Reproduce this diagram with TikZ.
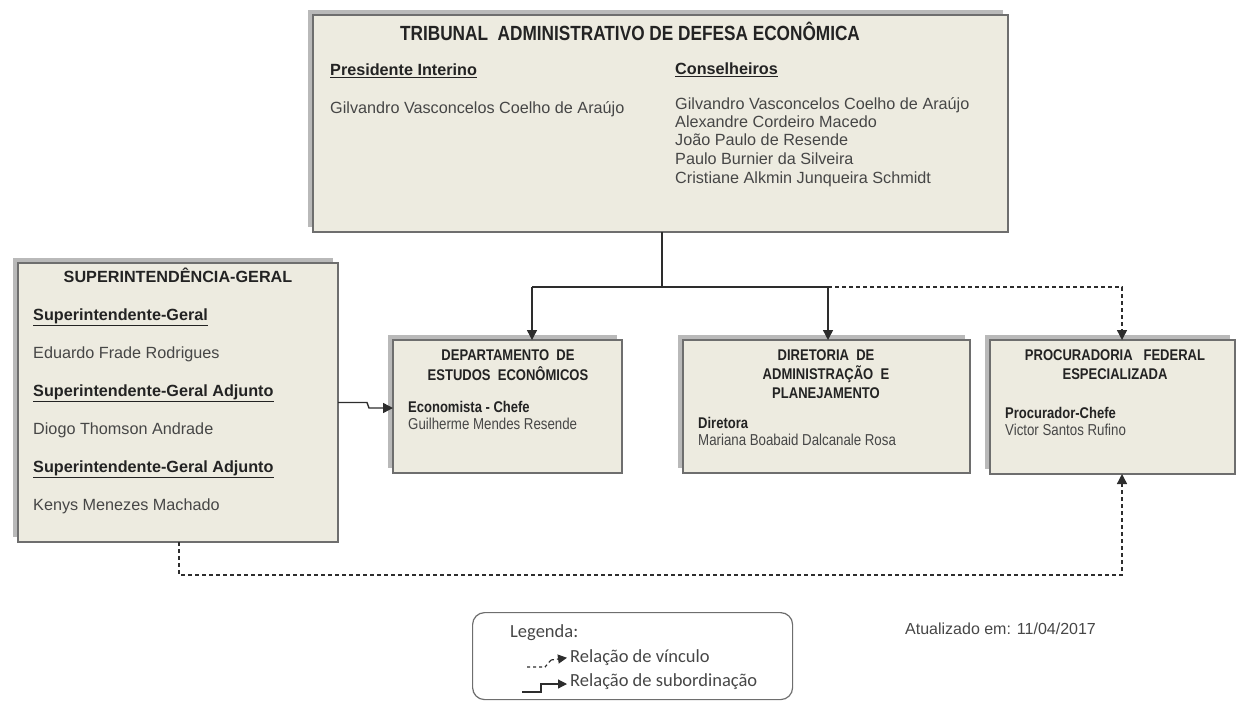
\documentclass[tikz,border=0pt]{standalone}
\usepackage{fontspec}
\setmainfont{Liberation Sans}
\newfontfamily\legfont{Carlito}
\newfontfamily\nar[FakeStretch=0.84]{Liberation Sans}
\usetikzlibrary{arrows.meta}
\definecolor{boxfill}{RGB}{237,235,224}
\definecolor{boxline}{RGB}{110,110,110}
\definecolor{shadowc}{RGB}{185,185,185}
\definecolor{ink}{RGB}{35,35,35}
\definecolor{namec}{RGB}{70,70,70}
\definecolor{linec}{RGB}{45,45,45}
\newcommand\szTitle{\nar\fontsize{20.5}{23}\selectfont\bfseries}
\newcommand\szBig{\fontsize{16.2}{19}\selectfont}
\newcommand\szBox{\nar\fontsize{15.8}{18}\selectfont}
\newcommand\szBoxT{\nar\fontsize{15.5}{18}\selectfont\bfseries}
\tikzset{
  orgbox/.style={draw=boxline, line width=1.8pt, fill=boxfill, anchor=north west,
    inner sep=0pt, outer sep=0pt,
    preaction={fill=shadowc, transform canvas={shift={(-5pt,5pt)}}}},
  tl/.style={anchor=mid west, inner sep=0pt, text=namec},
  th/.style={anchor=mid west, inner sep=0pt, text=ink},
  tc/.style={anchor=mid, inner sep=0pt, text=ink},
  conn/.style={draw=linec, line width=1.4pt},
  tip/.style={-{Triangle[length=10pt,width=10pt]}},
  sub/.style={conn, tip},
  vin/.style={draw=linec, line width=1.4pt, dash pattern=on 4pt off 3pt},
  vinarr/.style={vin, tip},
}
\begin{document}
\begin{tikzpicture}[x=1pt,y=-1pt]
\useasboundingbox (0,0) rectangle (1244,702);
% boxes
\node[orgbox, minimum width=695pt, minimum height=217pt] (trib) at (313,15) {};
\node[orgbox, minimum width=320pt, minimum height=279pt] (sg) at (18,263) {};
\node[orgbox, minimum width=229pt, minimum height=133pt] (dee) at (393,340) {};
\node[orgbox, minimum width=287pt, minimum height=133pt] (dap) at (683,340) {};
\node[orgbox, minimum width=245pt, minimum height=134pt] (pfe) at (990,340) {};
% tribunal text
\node[tc, font=\szTitle] (tt) at (630,38) {TRIBUNAL\ \ ADMINISTRATIVO DE DEFESA ECONÔMICA};
\node[th, font=\szBig\bfseries] (tp) at (330,73) {\underline{Presidente Interino}};
\node[th, font=\szBig\bfseries] (tcn) at (675,72) {\underline{Conselheiros}};
\node[tl, font=\szBig] (tp1) at (330,111) {Gilvandro Vasconcelos Coelho de Araújo};
\node[tl, font=\szBig] (tc1) at (675,107) {Gilvandro Vasconcelos Coelho de Araújo};
\node[tl, font=\szBig] (tc2) at (675,125) {Alexandre Cordeiro Macedo};
\node[tl, font=\szBig] (tc3) at (675,143) {João Paulo de Resende};
\node[tl, font=\szBig] (tc4) at (675,162) {Paulo Burnier da Silveira};
\node[tl, font=\szBig] (tc5) at (675,181) {Cristiane Alkmin Junqueira Schmidt};
% SG text
\node[tc, font=\szBig\bfseries] (st) at (178,280) {SUPERINTENDÊNCIA-GERAL};
\node[th, font=\szBig\bfseries] (s1) at (33,318) {\underline{Superintendente-Geral}};
\node[tl, font=\szBig] (s2) at (33,356) {Eduardo Frade Rodrigues};
\node[th, font=\szBig\bfseries] (s3) at (33,394) {\underline{Superintendente-Geral\ Adjunto}};
\node[tl, font=\szBig] (s4) at (33,432) {Diogo Thomson Andrade};
\node[th, font=\szBig\bfseries] (s5) at (33,470) {\underline{Superintendente-Geral\ Adjunto}};
\node[tl, font=\szBig] (s6) at (33,508) {Kenys Menezes Machado};
% DEE text
\node[tc, font=\szBoxT] (d1) at (508,358) {DEPARTAMENTO\ \ DE};
\node[tc, font=\szBoxT] (d2) at (508,378) {ESTUDOS\ \ ECONÔMICOS};
\node[th, font=\szBoxT] (d3) at (408,410) {Economista - Chefe};
\node[tl, font=\szBox] (d4) at (408,427) {Guilherme Mendes Resende};
% DAP text
\node[tc, font=\szBoxT] (a1) at (826,358) {DIRETORIA\ \ DE};
\node[tc, font=\szBoxT] (a2) at (826,377) {ADMINISTRAÇÃO\ \ E};
\node[tc, font=\szBoxT] (a3) at (826,396) {PLANEJAMENTO};
\node[th, font=\szBoxT] (a4) at (698,426) {Diretora};
\node[tl, font=\szBox] (a5) at (698,443) {Mariana Boabaid Dalcanale Rosa};
% PFE text
\node[tc, font=\szBoxT] (p1) at (1115,358) {PROCURADORIA\ \ \ FEDERAL};
\node[tc, font=\szBoxT] (p2) at (1115,377) {ESPECIALIZADA};
\node[th, font=\szBoxT] (p3) at (1005,416) {Procurador-Chefe};
\node[tl, font=\szBox] (p4) at (1005,433) {Victor Santos Rufino};
% connectors
\coordinate (j) at (662,287);
\coordinate (ja) at (532,287);
\coordinate (jb) at (828,287);
\coordinate (jc) at (1122,287);
\draw[conn] (j |- trib.south) -- (j);
\draw[conn] (ja) -- (jb);
\draw[sub] (ja) -- (ja |- dee.north);
\draw[sub] (jb) -- (jb |- dap.north);
\draw[vinarr] (jb) -- (jc) -- (jc |- pfe.north);
\coordinate (sa) at (367,402.5);
\coordinate (sb) at (369,408);
\draw[sub] (sg.east) -- (sa) -- (sb) -- (sb -| dee.west);
\coordinate (pv) at (1122,575);
\coordinate (sv) at (179,575);
\draw[vinarr] (sv |- sg.south) -- (sv) -- (pv) -- (pv |- pfe.south);
% date
\node[tl, font=\fontsize{16}{18}\selectfont, text=namec] (date) at (905,632) {Atualizado em: 11/04/2017};
% legend
\node[draw=boxline, line width=1.2pt, rounded corners=12pt, anchor=north west, minimum width=320pt, minimum height=87pt, inner sep=0pt] (leg) at (472,612) {};
\node[tl, font=\legfont\fontsize{18.5}{21}\selectfont] (lg) at (510,635) {Legenda:};
\node[tl, font=\legfont\fontsize{18.5}{21}\selectfont] (lv) at (570,660) {Relação de vínculo};
\node[tl, font=\legfont\fontsize{18.5}{21}\selectfont] (ls) at (570,684) {Relação de subordinação};
\coordinate (v0) at (527,667);
\coordinate (v1) at (545,667);
\coordinate (v2) at (551,660);
\draw[vin, line width=1.2pt, dash pattern=on 3pt off 3pt] (v0) -- (v1) -- (v2);
\draw[draw=linec, line width=1.2pt, dash pattern=on 3pt off 3pt, -{Triangle[length=9pt,width=9pt]}] (v2) -- ([xshift=-3pt]lv.west);
\coordinate (u0) at (522,692);
\coordinate (u1) at (541,692);
\coordinate (u2) at (541,684);
\draw[draw=linec, line width=1.2pt, -{Triangle[length=9pt,width=9pt]}] (u0) -- (u1) -- (u2) -- ([xshift=-3pt]u2 -| ls.west);
\end{tikzpicture}
\end{document}
